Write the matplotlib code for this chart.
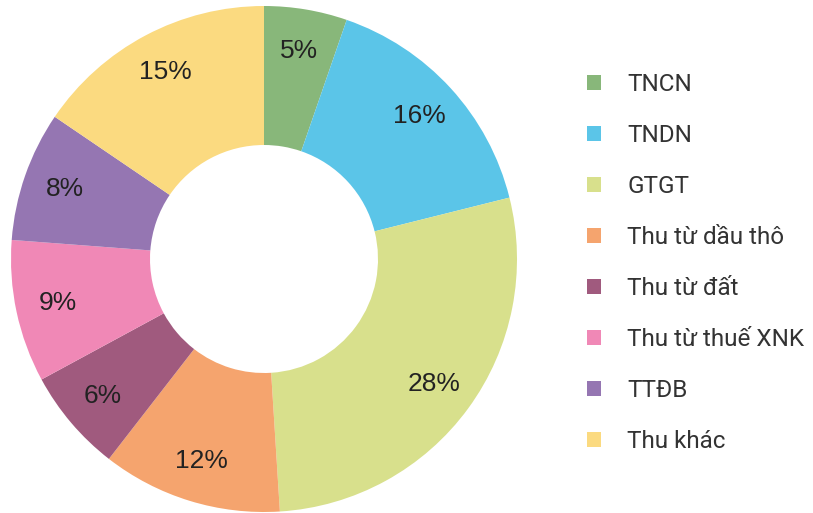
import matplotlib.pyplot as plt

categories = ["TNCN", "TNDN", "GTGT", "Thu từ dầu thô", "Thu từ đất",
              "Thu từ thuế XNK", "TTĐB", "Thu khác"]
# slice sizes as drawn in the chart (%)
shares = [5.3, 15.8, 27.9, 11.5, 6.6, 9.1, 8.3, 15.5]
# percentages printed on the slices
pct_labels = ["5%", "16%", "28%", "12%", "6%", "9%", "8%", "15%"]
colors = ["#88B77A", "#5BC5E8", "#D8E08C", "#F5A46E", "#A05A7E",
          "#F088B6", "#9576B2", "#FBDA80"]

W, H = 813, 513
fig = plt.figure(figsize=(W / 100, H / 100), dpi=100)

# donut: center (264, 259), radius 253 px
r = 253
ax = fig.add_axes([(264 - r) / W, (H - 259 - r) / H, 2 * r / W, 2 * r / H])

lab_iter = iter(pct_labels)
wedges, texts, autotexts = ax.pie(
    shares, colors=colors, startangle=90, counterclock=False,
    radius=1.0, wedgeprops=dict(width=1 - 114 / 253, linewidth=0),
    autopct=lambda p: next(lab_iter), pctdistance=0.835,
    textprops=dict(fontsize=19, color="#222222", family="Liberation Sans"))
ax.set_xlim(-1, 1)
ax.set_ylim(-1, 1)
ax.set_aspect("equal")
ax.axis("off")

fig.legend(wedges, categories, loc="upper left",
           bbox_to_anchor=(587 / W, 1 - 73 / H),
           frameon=False, prop=dict(family="Roboto", size=17.5),
           labelcolor="#333333",
           handlelength=0.58, handleheight=0.58, handletextpad=1.07,
           labelspacing=1.15, borderaxespad=0, borderpad=0)

fig.savefig("out.png", dpi=100)
